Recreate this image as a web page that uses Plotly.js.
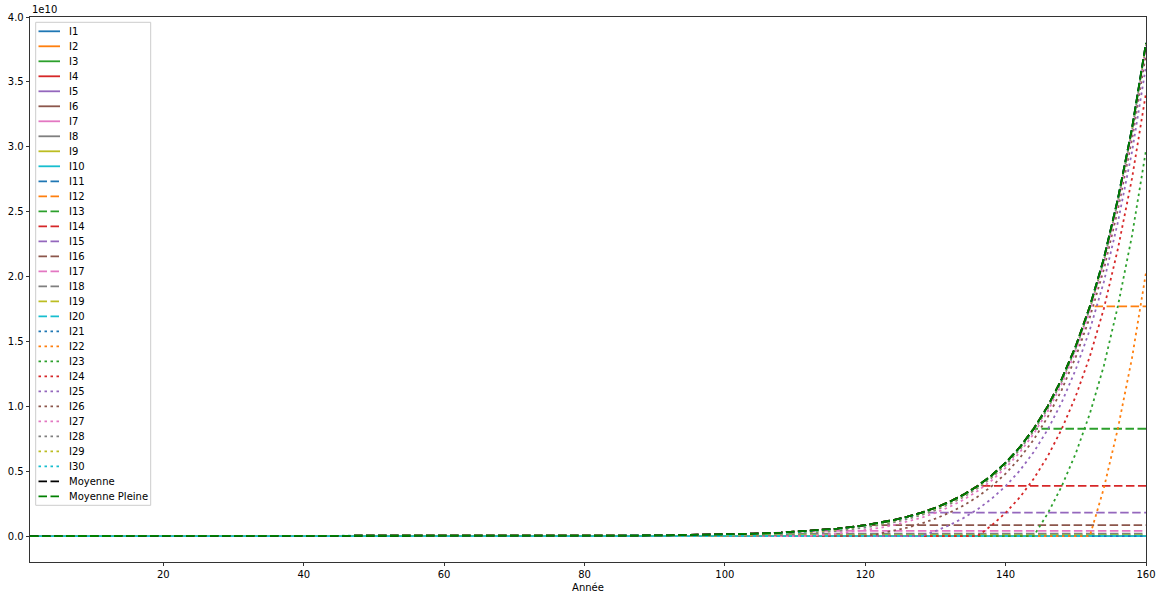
<!DOCTYPE html>
<html>
<head>
<meta charset="utf-8">
<script src="https://cdn.plot.ly/plotly-3.0.1.min.js"></script>
<style>
  html, body { margin: 0; padding: 0; background: #fff; }
  #graph { width: 1162px; height: 599px; }
</style>
</head>
<body>
<div id="graph"></div>
<script>
// years
var annees = [1, 20, 40, 60, 70, 80, 84, 88, 92, 96, 100, 104, 108, 112, 116, 120,
              122, 124, 126, 128, 130, 132, 134, 136, 138, 140, 142, 144, 146, 148,
              150, 152, 154, 156, 158, 160];

// values in units of 1e10
var moyennePleine = [0.0000004, 0.000006, 0.000041, 0.000276, 0.000715, 0.00186, 0.00272,
                     0.00398, 0.00582, 0.00852, 0.0125, 0.0183, 0.0268, 0.0392, 0.0573, 0.0839,
                     0.1015, 0.123, 0.149, 0.180, 0.218, 0.264, 0.319, 0.386, 0.467, 0.565,
                     0.683, 0.827, 1.001, 1.211, 1.465, 1.77, 2.14, 2.60, 3.14, 3.80];

var moyenne = [0.0000004, 0.000006, 0.000041, 0.000276, 0.000715, 0.00186, 0.00272,
               0.00398, 0.00582, 0.00852, 0.0125, 0.0183, 0.0268, 0.0392, 0.0573, 0.0839,
               0.1015, 0.123, 0.149, 0.180, 0.218, 0.264, 0.319, 0.386, 0.467, 0.565,
               0.683, 0.827, 1.001, 1.211, 1.465, 1.77, 2.14, 2.60, 3.14, 3.80];

// I1..I10 stay at zero
var plats = [0, 0, 0, 0, 0, 0, 0, 0, 0, 0];

// I11..I20 : year where the curve stops growing, and its plateau
var anneesPlafond = [160, 152, 144, 136, 128, 120, 112, 104, 96, 88];
var plafonds = [3.80, 1.77, 0.827, 0.386, 0.180, 0.0839, 0.0392, 0.0183, 0.00852, 0.00398];

// I21..I30 : year where the curve starts from zero
var anneesDepart = [160, 152, 144, 136, 128, 120, 112, 104, 96, 88];

var couleurs = ['#1f77b4', '#ff7f0e', '#2ca02c', '#d62728', '#9467bd',
                '#8c564b', '#e377c2', '#7f7f7f', '#bcbd22', '#17becf'];

var LW = 1.8;
var TIRET = '8.5px,3.5px';
var POINT = '2.5px,3.5px';

var traces = [];
var legende = []; // name, color, dash

for (var i = 0; i < 10; i++) {
    var y = annees.map(function () { return plats[i]; });
    traces.push({x: annees, y: y, mode: 'lines', name: 'I' + (i + 1),
                 line: {color: couleurs[i], width: LW}});
    legende.push(['I' + (i + 1), couleurs[i], 'solid']);
}

for (var i = 0; i < 10; i++) {
    var y = [];
    for (var k = 0; k < annees.length; k++) {
        y.push(annees[k] <= anneesPlafond[i] ? moyennePleine[k] : plafonds[i]);
    }
    traces.push({x: annees, y: y, mode: 'lines', name: 'I' + (i + 11),
                 line: {color: couleurs[i], width: LW, dash: TIRET}});
    legende.push(['I' + (i + 11), couleurs[i], TIRET]);
}

for (var i = 0; i < 10; i++) {
    var y = [];
    for (var k = 0; k < annees.length; k++) {
        y.push(annees[k] <= anneesDepart[i] ? 0 : moyennePleine[k] - plafonds[i]);
    }
    traces.push({x: annees, y: y, mode: 'lines', name: 'I' + (i + 21),
                 line: {color: couleurs[i], width: LW, dash: POINT}});
    legende.push(['I' + (i + 21), couleurs[i], POINT]);
}

traces.push({x: annees, y: moyenne, mode: 'lines', name: 'Moyenne',
             line: {color: '#000000', width: LW, dash: TIRET}});
legende.push(['Moyenne', '#000000', TIRET]);

traces.push({x: annees, y: moyennePleine, mode: 'lines', name: 'Moyenne Pleine',
             line: {color: '#008000', width: LW, dash: TIRET}});
legende.push(['Moyenne Pleine', '#008000', TIRET]);

// hand made legend (plotly rows are too tall for 32 entries)
var L = 30, T = 17, W = 1116, H = 545;
function px(v) { return (v - L) / W; }
function py(v) { return (T + H - v) / H; }

var shapes = [{
    type: 'rect', xref: 'paper', yref: 'paper', layer: 'above',
    x0: px(35.7), x1: px(150.7), y0: py(505.3), y1: py(22.3),
    fillcolor: 'rgba(255,255,255,0.8)', line: {color: '#cccccc', width: 1}
}];
var annotations = [{
    text: '1e10', xref: 'paper', yref: 'paper', x: 0, y: 1,
    xanchor: 'left', yanchor: 'bottom', showarrow: false,
    font: {size: 10, color: '#000'}
}];

for (var j = 0; j < legende.length; j++) {
    var yy = 31.3 + 15 * j;
    shapes.push({
        type: 'line', xref: 'paper', yref: 'paper', layer: 'above',
        x0: px(38.5), x1: px(60), y0: py(yy), y1: py(yy),
        line: {color: legende[j][1], width: LW, dash: legende[j][2]}
    });
    annotations.push({
        text: legende[j][0], xref: 'paper', yref: 'paper', x: px(66.5), y: py(yy),
        xanchor: 'left', yanchor: 'middle', showarrow: false,
        font: {size: 10, color: '#000'}
    });
}

var layout = {
    width: 1162, height: 599,
    margin: {l: L, r: 1162 - L - W, t: T, b: 599 - T - H},
    paper_bgcolor: '#ffffff', plot_bgcolor: '#ffffff',
    font: {family: 'DejaVu Sans, sans-serif', size: 10, color: '#000'},
    showlegend: false,
    xaxis: {
        range: [1, 160], tickvals: [20, 40, 60, 80, 100, 120, 140, 160],
        showgrid: false, zeroline: false,
        showline: true, mirror: true, linecolor: '#000', linewidth: 0.8,
        ticks: 'outside', ticklen: 3.5, tickwidth: 0.8, tickcolor: '#000',
        title: {text: 'Année', font: {size: 10}, standoff: 4}
    },
    yaxis: {
        range: [-0.2, 4.0], tickvals: [0, 0.5, 1, 1.5, 2, 2.5, 3, 3.5, 4],
        tickformat: '.1f',
        showgrid: false, zeroline: false,
        showline: true, mirror: true, linecolor: '#000', linewidth: 0.8,
        ticks: 'outside', ticklen: 3.5, tickwidth: 0.8, tickcolor: '#000'
    },
    shapes: shapes,
    annotations: annotations
};

Plotly.newPlot('graph', traces, layout, {displayModeBar: false, staticPlot: true});
</script>
</body>
</html>
